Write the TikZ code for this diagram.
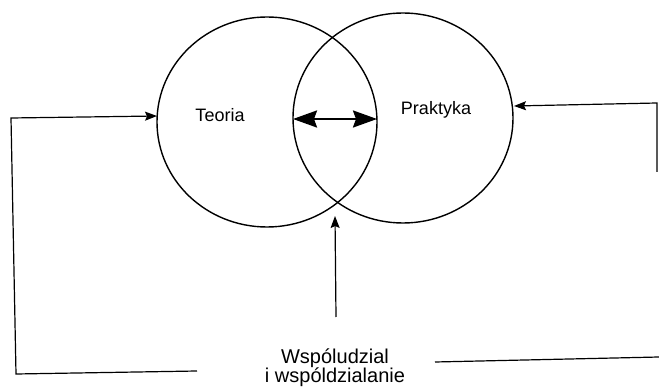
\documentclass[tikz,border=0pt]{standalone}
\usepackage{fontspec}
\setmainfont{Liberation Sans}
\usetikzlibrary{shapes.geometric,arrows.meta}
\begin{document}
\begin{tikzpicture}[x=1pt,y=-1pt,
  ring/.style={draw, ellipse, line width=1.4pt, minimum width=220pt, minimum height=210pt, inner sep=0pt},
  lbl/.style={font=\fontsize{18}{18}\selectfont, anchor=base},
  feed/.style={line width=1.2pt, -{Stealth[length=12pt,width=9pt,inset=2pt]}},
  plainline/.style={line width=1.2pt},
  both/.style={line width=2.4pt, {Stealth[length=24pt,width=17pt,inset=3pt]}-{Stealth[length=24pt,width=17pt,inset=3pt]}},
  caption/.style={font=\fontsize{20}{18}\selectfont, align=center}]
  \fill[white] (0,0) rectangle (659,387);
  \useasboundingbox (0,0) rectangle (659,387);

  % the two overlapping fields
  \node[ring] (teoria) at (267,122) {};
  \node[ring] (praktyka) at (403,118) {};

  \node[lbl] (tlabel) at (220,122) {Teoria};
  \node[lbl] (plabel) at (436,115) {Praktyka};

  % exchange between theory and practice
  \coordinate (pw) at (293,119);
  \coordinate (te) at (377,119);
  \draw[both] (pw) -- (te);

  % caption at the bottom
  \node[caption] (wsp) at (335,368) {Wspóludzial\\[-1pt]i wspóldzialanie};

  % upward arrow towards the overlap
  \coordinate (ub) at (336,317);
  \coordinate (ut) at (335,216);
  \draw[feed] (ub) -- (ut);

  % left feedback loop into Teoria
  \coordinate (lb) at (197,371);
  \coordinate (lc) at (16,374);
  \coordinate (ltc) at (11,118);
  \coordinate (tin) at (157,116);
  \draw[feed] (lb) -- (lc) -- (ltc) -- (tin);

  % right feedback loop into Praktyka
  \coordinate (rv) at (657,172);
  \coordinate (rc) at (657,103);
  \coordinate (pin) at (514,106);
  \draw[feed] (rv) -- (rc) -- (pin);
  \coordinate (rb1) at (435,362);
  \coordinate (rb2) at (659,357);
  \draw[plainline] (rb1) -- (rb2);
\end{tikzpicture}
\end{document}
